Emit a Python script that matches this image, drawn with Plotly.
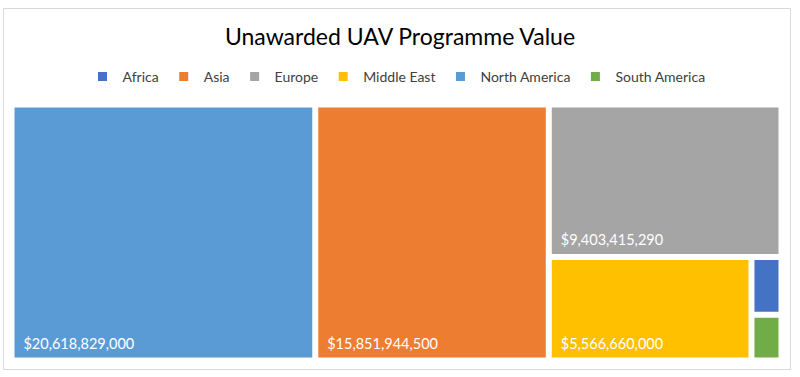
import plotly.graph_objects as go

regions = ["Africa", "Asia", "Europe", "Middle East", "North America", "South America"]
values = [460000000, 15851944500, 9403415290, 5566660000, 20618829000, 365000000]
colors = ["#4472C4", "#ED7D31", "#A5A5A5", "#FFC000", "#5B9BD5", "#70AD47"]
show_label = [False, True, True, True, True, False]

NB = "\u00a0"
texts = [(NB * 2 + "${:,.0f}".format(v) + "<span style='font-size:33px'>" + NB + "</span>") if s else ""
         for v, s in zip(values, show_label)]

FONT = "Lato"

fig = go.Figure()
fig.add_trace(go.Treemap(
    labels=regions,
    parents=[""] * len(regions),
    values=values,
    text=texts,
    texttemplate="%{text}",
    textposition="bottom left",
    textfont=dict(family=FONT, size=14.5, color="white"),
    marker=dict(colors=colors, line=dict(color="white", width=3),
                pad=dict(t=0, l=0, r=0, b=0)),
    root=dict(color="white"),
    pathbar=dict(visible=False),
    tiling=dict(packing="squarify", squarifyratio=1),
    sort=True,
    hoverinfo="label+value",
))

for r, c in zip(regions, colors):
    fig.add_trace(go.Scatter(
        x=[None], y=[None], mode="markers", name=r,
        marker=dict(symbol="square", size=9, color=c),
        showlegend=True, hoverinfo="skip",
    ))

W, H = 800, 377
l, r, t, b = 13, 20, 106, 18
pw, ph = W - l - r, H - t - b


def px_x(x):
    return (x - l) / pw


def px_y(y):
    return 1 - (y - t) / ph


fig.update_layout(
    width=W, height=H,
    margin=dict(l=l, r=r, t=t, b=b),
    paper_bgcolor="white", plot_bgcolor="white",
    title=dict(text="Unawarded UAV Programme Value", x=0.5, xanchor="center",
               y=1 - 37 / H, yanchor="middle",
               font=dict(family=FONT, size=23, color="#000000")),
    legend=dict(orientation="h", x=0.5, xanchor="center", y=px_y(77), yanchor="middle",
                font=dict(family=FONT, size=14, color="#404040"),
                itemwidth=30, tracegroupgap=0),
    xaxis=dict(visible=False), yaxis=dict(visible=False),
    uniformtext=dict(minsize=12, mode="hide"),
    shapes=[dict(type="rect", xref="paper", yref="paper",
                 x0=px_x(3.5), x1=px_x(790.5), y0=px_y(369.5), y1=px_y(8.5),
                 line=dict(color="#D9D9D9", width=1), fillcolor="rgba(0,0,0,0)", layer="below")],
)

fig.write_html("out.html", config={"displayModeBar": False},
               post_script="document.body.style.margin='0px';document.body.style.overflow='hidden';")
